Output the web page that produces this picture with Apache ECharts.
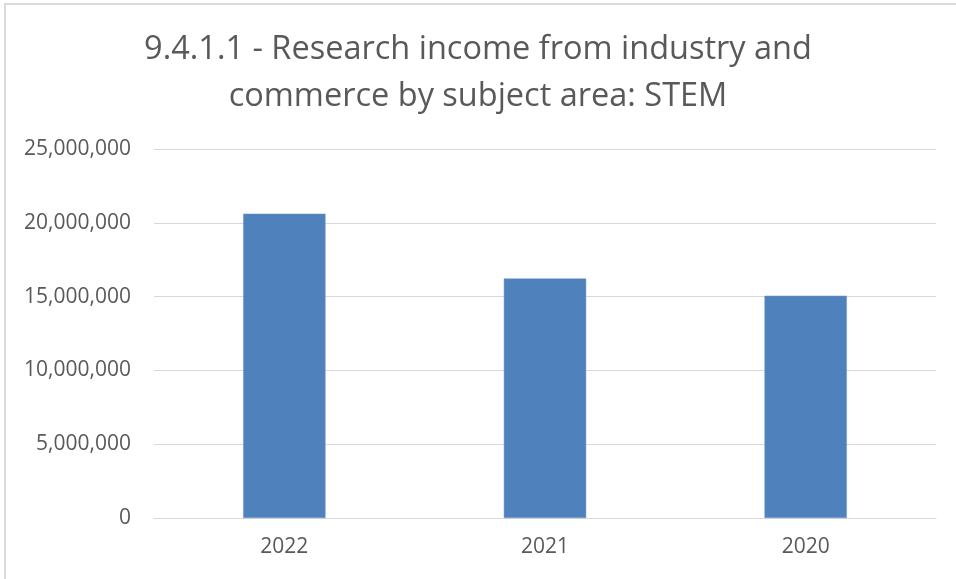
<!DOCTYPE html>
<html>
<head>
<meta charset="utf-8">
<script src="https://cdn.jsdelivr.net/npm/echarts@6/dist/echarts.min.js"></script>
<style>
html,body{margin:0;padding:0;background:#fff;}
#chart{width:956px;height:579px;}
</style>
</head>
<body>
<div id="chart"></div>
<script>
const titleText = "9.4.1.1 - Research income from industry and\ncommerce by subject area: STEM";
const categories = ["2022", "2021", "2020"];
const values = [20620000, 16230000, 15060000];
const yTicks = [0, 5000000, 10000000, 15000000, 20000000, 25000000];

const FONT = "'Open Sans', 'Noto Sans', sans-serif";
const chart = echarts.init(document.getElementById('chart'), null, {renderer: 'canvas'});
chart.setOption({
  backgroundColor: '#ffffff',
  animation: false,
  graphic: [{
    type: 'rect',
    shape: {x: 5, y: 4, width: 1000, height: 1000},
    style: {fill: 'none', stroke: '#d9d9d9', lineWidth: 2},
    silent: true
  }],
  title: {
    text: titleText,
    left: 'center',
    top: 21,
    padding: [5, 5, 5, 15],
    textStyle: {fontFamily: FONT, fontSize: 32.5, fontWeight: 'normal', color: '#595959', lineHeight: 47}
  },
  grid: {left: 154, right: 20, top: 149, bottom: 61, containLabel: false},
  xAxis: {
    type: 'category',
    data: categories,
    axisLine: {show: true, lineStyle: {color: '#d9d9d9', width: 1}},
    axisTick: {show: false},
    axisLabel: {fontFamily: FONT, fontSize: 21, color: '#595959', margin: 19}
  },
  yAxis: {
    type: 'value',
    min: yTicks[0],
    max: yTicks[yTicks.length - 1],
    interval: yTicks[1] - yTicks[0],
    axisLine: {show: false},
    axisTick: {show: false},
    splitLine: {lineStyle: {color: '#d9d9d9', width: 1}},
    axisLabel: {
      fontFamily: FONT, fontSize: 21, color: '#595959', margin: 23,
      formatter: v => v.toLocaleString('en-US')
    }
  },
  series: [{
    type: 'bar',
    data: values,
    barWidth: '31.6%',
    itemStyle: {color: '#4f81bd', borderColor: '#7399c6', borderWidth: 0.5}
  }]
});
</script>
</body>
</html>
